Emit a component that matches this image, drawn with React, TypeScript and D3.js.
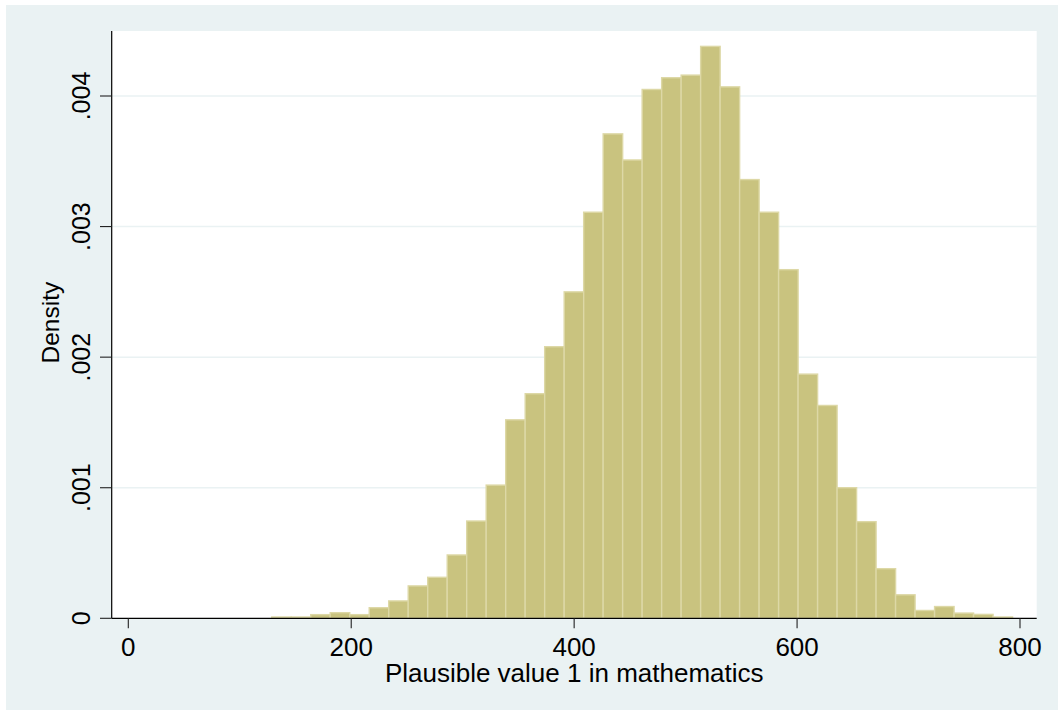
import React from "react";
import * as d3 from "d3";

// Histogram data (density per bin)
const binStart = 128.7;
const binWidth = 17.49;
const densities = [
  0.00001, 0.00001, 0.000028, 0.000043, 0.000028, 0.000081, 0.000133, 0.000248,
  0.000314, 0.000485, 0.000745, 0.00102, 0.00152, 0.00172, 0.00208, 0.0025,
  0.00311, 0.00371, 0.00351, 0.00405, 0.00414, 0.00416, 0.00438, 0.00407,
  0.00336, 0.00311, 0.00267, 0.00187, 0.00163, 0.001, 0.00074, 0.00038,
  0.00018, 0.00006, 0.00009, 0.00004, 0.00003, 0.00001,
];
const xTicks = [0, 200, 400, 600, 800];
const xTickLabels = ["0", "200", "400", "600", "800"];
const yTicks = [0, 0.001, 0.002, 0.003, 0.004];
const yTickLabels = ["0", ".001", ".002", ".003", ".004"];
const gridValues = [0.001, 0.002, 0.003, 0.004];
const xTitle = "Plausible value 1 in mathematics";
const yTitle = "Density";

const W = 1058;
const H = 710;
const plotLeft = 111.7;
const plotRight = 1036.7;
const plotTop = 31;
const plotBottom = 618.3;

const FONT = "'Liberation Sans', Arial, Helvetica, sans-serif";

export default function App() {
  const x = d3.scaleLinear().domain([0, 800]).range([128.3, 1020]);
  const y = d3.scaleLinear().domain([0, 0.004]).range([plotBottom, 96]);

  const bins = densities.map((d, i) => ({
    x0: binStart + i * binWidth,
    x1: binStart + (i + 1) * binWidth,
    d,
  }));

  return (
    <svg
      width={W}
      height={H}
      style={{ position: "absolute", left: 0, top: 0, background: "#ffffff" }}
    >
      <rect x={6} y={5} width={W - 6} height={H - 5} fill="#EAF2F3" />
      <rect
        x={plotLeft}
        y={plotTop}
        width={plotRight - plotLeft}
        height={plotBottom - plotTop}
        fill="#ffffff"
      />
      {gridValues.map((g) => (
        <line
          key={"g" + g}
          x1={plotLeft}
          x2={plotRight}
          y1={y(g)}
          y2={y(g)}
          stroke="#EAF2F3"
          strokeWidth={1.5}
        />
      ))}
      {bins.map((b, i) => (
        <rect
          key={"b" + i}
          x={x(b.x0)}
          y={y(b.d)}
          width={x(b.x1) - x(b.x0)}
          height={plotBottom - y(b.d)}
          fill="#C9C37F"
          stroke="#DDD8A6"
          strokeWidth={1.4}
        />
      ))}
      {/* axes */}
      <line x1={plotLeft} x2={plotLeft} y1={plotTop} y2={plotBottom} stroke="#000" strokeWidth={1.2} />
      <line x1={plotLeft} x2={plotRight} y1={plotBottom} y2={plotBottom} stroke="#000" strokeWidth={1.2} />
      {yTicks.map((t, i) => (
        <g key={"yt" + i}>
          <line x1={100} x2={plotLeft} y1={y(t)} y2={y(t)} stroke="#222" strokeWidth={1.1} />
          <text
            transform={`translate(90,${y(t)}) rotate(-90)`}
            textAnchor="middle"
            fontFamily={FONT}
            fontSize={25}
            fill="#000"
          >
            {yTickLabels[i]}
          </text>
        </g>
      ))}
      {xTicks.map((t, i) => (
        <g key={"xt" + i}>
          <line x1={x(t)} x2={x(t)} y1={plotBottom} y2={plotBottom + 10} stroke="#222" strokeWidth={1.1} />
          <text
            x={x(t)}
            y={656}
            textAnchor="middle"
            fontFamily={FONT}
            fontSize={26}
            fill="#000"
          >
            {xTickLabels[i]}
          </text>
        </g>
      ))}
      <text
        x={(plotLeft + plotRight) / 2}
        y={681.5}
        textAnchor="middle"
        fontFamily={FONT}
        fontSize={26}
        fill="#000"
      >
        {xTitle}
      </text>
      <text
        transform={`translate(59,${(plotTop + plotBottom) / 2 - 2}) rotate(-90)`}
        textAnchor="middle"
        fontFamily={FONT}
        fontSize={24.5}
        fill="#000"
      >
        {yTitle}
      </text>
    </svg>
  );
}
